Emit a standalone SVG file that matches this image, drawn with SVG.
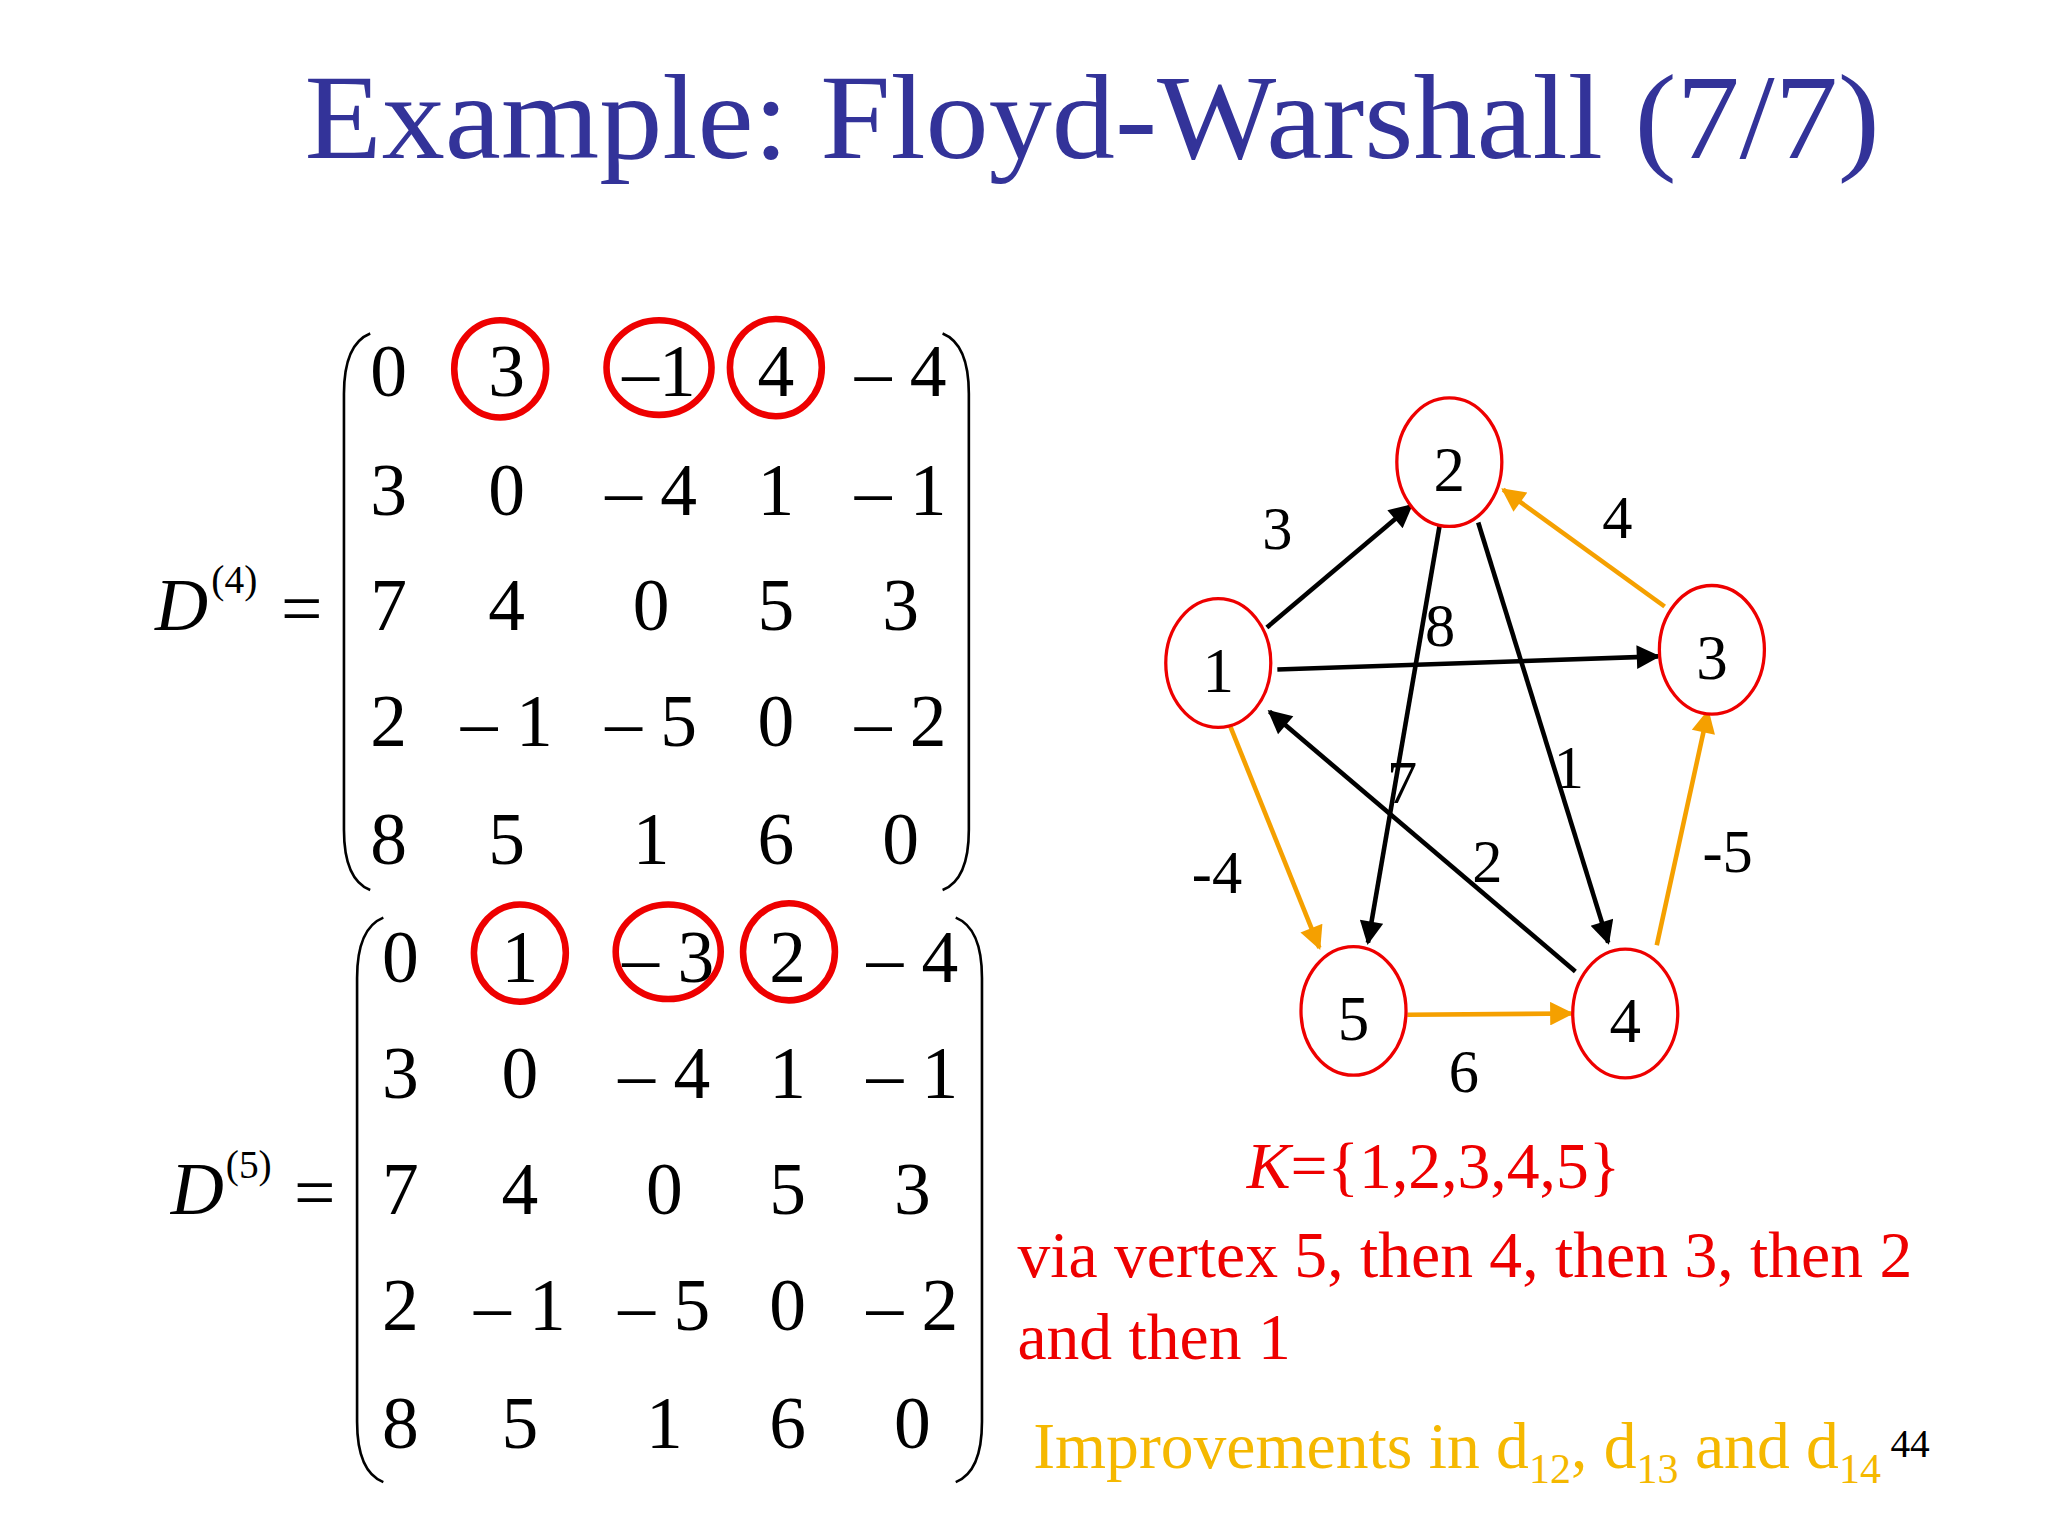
<svg xmlns="http://www.w3.org/2000/svg" width="2048" height="1536" viewBox="0 0 2048 1536">
<defs>
<marker id="ab" viewBox="0 0 10 10" refX="9" refY="5" markerWidth="22" markerHeight="18" orient="auto" markerUnits="userSpaceOnUse"><path d="M0,0 L10,5 L0,10 z" fill="#000"/></marker>
<marker id="ao" viewBox="0 0 10 10" refX="9" refY="5" markerWidth="22" markerHeight="18" orient="auto" markerUnits="userSpaceOnUse"><path d="M0,0 L10,5 L0,10 z" fill="#f5a000"/></marker>
<style>
text{font-family:"Liberation Serif","Times New Roman",serif}
.m{font-size:56px;text-anchor:middle}
.c{fill:none;stroke:#e00;stroke-width:5}
.p{fill:none;stroke:#000;stroke-width:2}
.n ellipse{fill:#fff;stroke:#e00;stroke-width:2.5}
.n text{font-size:48px;text-anchor:middle}
.eb{stroke:#000;stroke-width:3.5;marker-end:url(#ab);fill:none}
.eo{stroke:#f5a000;stroke-width:3.5;marker-end:url(#ao);fill:none}
.l{font-size:46px;text-anchor:middle}
.r{fill:#e00;font-size:50px}
</style>
</defs>
<rect width="2048" height="1536" fill="#fff"/>
<g transform="scale(1.3128)">
<text x="232" y="120" font-size="92" fill="#333399" textLength="1200" lengthAdjust="spacingAndGlyphs">Example: Floyd-Warshall (7/7)</text>

<g id="matrix4">
<text x="118" y="480" font-size="56" font-style="italic">D</text>
<text x="161" y="452" font-size="30">(4)</text>
<text x="214" y="482" font-size="56">=</text>
<path class="p" d="M282,254 Q262,262 262,300 L262,632 Q262,670 282,678"/>
<path class="p" d="M718,254 Q738,262 738,300 L738,632 Q738,670 718,678"/>
<g class="m">
<text x="296" y="302">0</text><text x="386" y="302">3</text><text x="502" y="302">–1</text><text x="591" y="302">4</text><text x="686" y="302">– 4</text>
<text x="296" y="392">3</text><text x="386" y="392">0</text><text x="496" y="392">– 4</text><text x="591" y="392">1</text><text x="686" y="392">– 1</text>
<text x="296" y="480">7</text><text x="386" y="480">4</text><text x="496" y="480">0</text><text x="591" y="480">5</text><text x="686" y="480">3</text>
<text x="296" y="568">2</text><text x="386" y="568">– 1</text><text x="496" y="568">– 5</text><text x="591" y="568">0</text><text x="686" y="568">– 2</text>
<text x="296" y="658">8</text><text x="386" y="658">5</text><text x="496" y="658">1</text><text x="591" y="658">6</text><text x="686" y="658">0</text>
</g>
<ellipse class="c" cx="381" cy="281" rx="35" ry="37"/>
<ellipse class="c" cx="502" cy="280" rx="40" ry="36"/>
<ellipse class="c" cx="591" cy="280" rx="35" ry="37"/>
</g>

<g id="matrix5">
<text x="130" y="925" font-size="56" font-style="italic">D</text>
<text x="172" y="897" font-size="30">(5)</text>
<text x="224" y="927" font-size="56">=</text>
<path class="p" d="M292,699 Q272,707 272,745 L272,1083 Q272,1121 292,1129"/>
<path class="p" d="M728,699 Q748,707 748,745 L748,1083 Q748,1121 728,1129"/>
<g class="m">
<text x="305" y="748">0</text><text x="396" y="748">1</text><text x="509" y="748">– 3</text><text x="600" y="748">2</text><text x="695" y="748">– 4</text>
<text x="305" y="836">3</text><text x="396" y="836">0</text><text x="506" y="836">– 4</text><text x="600" y="836">1</text><text x="695" y="836">– 1</text>
<text x="305" y="925">7</text><text x="396" y="925">4</text><text x="506" y="925">0</text><text x="600" y="925">5</text><text x="695" y="925">3</text>
<text x="305" y="1013">2</text><text x="396" y="1013">– 1</text><text x="506" y="1013">– 5</text><text x="600" y="1013">0</text><text x="695" y="1013">– 2</text>
<text x="305" y="1103">8</text><text x="396" y="1103">5</text><text x="506" y="1103">1</text><text x="600" y="1103">6</text><text x="695" y="1103">0</text>
</g>
<ellipse class="c" cx="396" cy="726" rx="35" ry="37"/>
<ellipse class="c" cx="509" cy="725" rx="40" ry="36"/>
<ellipse class="c" cx="601" cy="725" rx="35" ry="37"/>
</g>

<g id="connectors">
<line class="eb" x1="965" y1="478" x2="1075" y2="385"/>
<line class="eb" x1="973" y1="510" x2="1263" y2="500"/>
<line class="eb" x1="1097" y1="398" x2="1042" y2="718"/>
<line class="eb" x1="1126" y1="398" x2="1225" y2="718"/>
<line class="eb" x1="1200" y1="740" x2="967" y2="542"/>
<line class="eo" x1="1268" y1="462" x2="1145" y2="373"/>
<line class="eo" x1="935" y1="548" x2="1005" y2="722"/>
<line class="eo" x1="1072" y1="773" x2="1197" y2="772"/>
<line class="eo" x1="1262" y1="720" x2="1301" y2="542"/>
<text class="l" x="973" y="418">3</text>
<text class="l" x="1232" y="410">4</text>
<text class="l" x="1097" y="492">8</text>
<text class="l" x="1195" y="600">1</text>
<text class="l" x="1068" y="612">7</text>
<text class="l" x="1133" y="672">2</text>
<text class="l" x="927" y="680">-4</text>
<text class="l" x="1316" y="664">-5</text>
<text class="l" x="1115" y="832">6</text>
</g>

<g id="n1" class="n"><ellipse cx="928" cy="505" rx="40" ry="49"/><text x="928" y="527">1</text></g>
<g id="n2" class="n"><ellipse cx="1104" cy="352" rx="40" ry="49"/><text x="1104" y="374">2</text></g>
<g id="n3" class="n"><ellipse cx="1304" cy="495" rx="40" ry="49"/><text x="1304" y="517">3</text></g>
<g id="n4" class="n"><ellipse cx="1238" cy="772" rx="40" ry="49"/><text x="1238" y="794">4</text></g>
<g id="n5" class="n"><ellipse cx="1031" cy="770" rx="40" ry="49"/><text x="1031" y="792">5</text></g>

<text class="r" x="1092" y="905" text-anchor="middle"><tspan font-style="italic">K</tspan>={1,2,3,4,5}</text>
<text class="r" x="775" y="973">via vertex 5, then 4, then 3, then 2</text>
<text class="r" x="775" y="1035">and then 1</text>
<text x="787" y="1118" font-size="50" fill="#f5b800">Improvements in d<tspan font-size="32" dy="12">12</tspan><tspan dy="-12">, d</tspan><tspan font-size="32" dy="12">13</tspan><tspan dy="-12"> and d</tspan><tspan font-size="32" dy="12">14</tspan></text>
<text x="1440" y="1110" font-size="30">44</text>
</g>
</svg>
